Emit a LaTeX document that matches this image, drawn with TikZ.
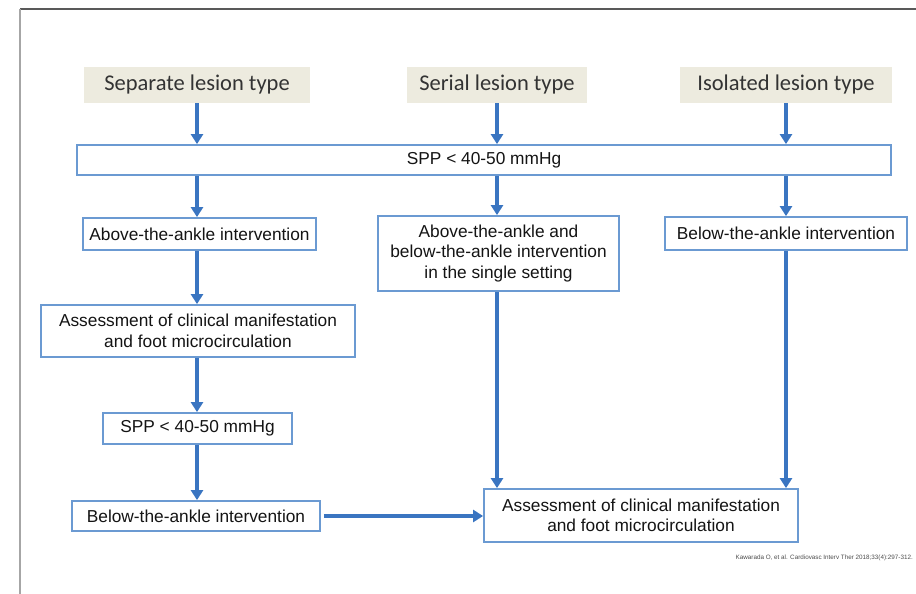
\documentclass[tikz,border=0pt]{standalone}
\usepackage{fontspec}
\setmainfont{Liberation Sans}
\newfontfamily\hdrfont{Carlito}
\usetikzlibrary{arrows.meta}
\definecolor{boxblue}{HTML}{6B9AD2}
\definecolor{arrblue}{HTML}{3A75C1}
\definecolor{hdrfill}{HTML}{EDEBDF}
\definecolor{hdrtext}{HTML}{333333}
\definecolor{bodytext}{HTML}{141414}
\tikzset{
  hdrbox/.style={fill=hdrfill, draw=none, inner sep=0pt, text=hdrtext,
    font=\hdrfont\fontsize{22.5}{26}\selectfont},
  flowbox/.style={draw=boxblue, line width=1.8pt, fill=white, inner sep=0pt,
    align=center, text=bodytext, font=\fontsize{17.3}{20.5}\selectfont},
  arr/.style={draw=arrblue, line width=3.2pt,
    -{Triangle[width=12pt,length=10pt]}},
  frameline/.style={line width=1.2pt, draw=black!65}
}
\begin{document}
\begin{tikzpicture}[x=1pt,y=-1pt]
\useasboundingbox (0,0) rectangle (916,594);
% frame
\coordinate (fTL) at (20,9);
\coordinate (fTR) at (916,9);
\coordinate (fBL) at (20,594);
\draw[frameline] (fTL) -- (fTR);
\draw[line width=2pt, draw=black!35] (fTL) -- (fBL);
% column positions
\coordinate (cL) at (197,0);
\coordinate (cM) at (497,0);
\coordinate (cR) at (786,0);
% headers
\node[hdrbox, minimum width=226pt, minimum height=36pt] (h1) at (197,85) {Separate lesion type};
\node[hdrbox, minimum width=180pt, minimum height=36pt] (h2) at (497,85) {Serial lesion type};
\node[hdrbox, minimum width=212pt, minimum height=36pt] (h3) at (786,85) {Isolated lesion type};
% boxes
\node[flowbox, minimum width=814pt, minimum height=30pt] (spp) at (484,160) {SPP < 40-50 mmHg};
\node[flowbox, minimum width=233pt, minimum height=32pt] (a1) at (199.5,234) {Above-the-ankle intervention};
\node[flowbox, minimum width=241pt, minimum height=75pt] (m) at (498.5,253.5) {Above-the-ankle and\\below-the-ankle intervention\\in the single setting};
\node[flowbox, minimum width=242pt, minimum height=33pt] (r) at (786,233.5) {Below-the-ankle intervention};
\node[flowbox, minimum width=314pt, minimum height=52pt] (as1) at (198,331) {Assessment of clinical manifestation\\and foot microcirculation};
\node[flowbox, minimum width=189pt, minimum height=31pt] (spp2) at (197.5,428.5) {SPP < 40-50 mmHg};
\node[flowbox, minimum width=248pt, minimum height=30pt] (b1) at (196,516) {Below-the-ankle intervention};
\node[flowbox, minimum width=314pt, minimum height=53pt] (as2) at (641,515.5) {Assessment of clinical manifestation\\and foot microcirculation};
% citation
\node[anchor=east, inner sep=0pt, text=black!70, font=\fontsize{6.3}{7}\selectfont] (cite) at (913,558) {Kawarada O, et al. Cardiovasc Interv Ther 2018;33(4):297-312.};
% arrows
\draw[arr] (h1.south -| cL) -- (spp.north -| cL);
\draw[arr] (h2.south -| cM) -- (spp.north -| cM);
\draw[arr] (h3.south -| cR) -- (spp.north -| cR);
\draw[arr] (spp.south -| cL) -- (a1.north -| cL);
\draw[arr] (spp.south -| cM) -- (m.north -| cM);
\draw[arr] (spp.south -| cR) -- (r.north -| cR);
\draw[arr] (a1.south -| cL) -- (as1.north -| cL);
\draw[arr] (as1.south -| cL) -- (spp2.north -| cL);
\draw[arr] (spp2.south -| cL) -- (b1.north -| cL);
\draw[arr] (m.south -| cM) -- (as2.north -| cM);
\draw[arr] (r.south -| cR) -- (as2.north -| cR);
\draw[arr, shorten <=3pt] (b1.east) -- (as2.west |- b1.east);
\end{tikzpicture}
\end{document}
